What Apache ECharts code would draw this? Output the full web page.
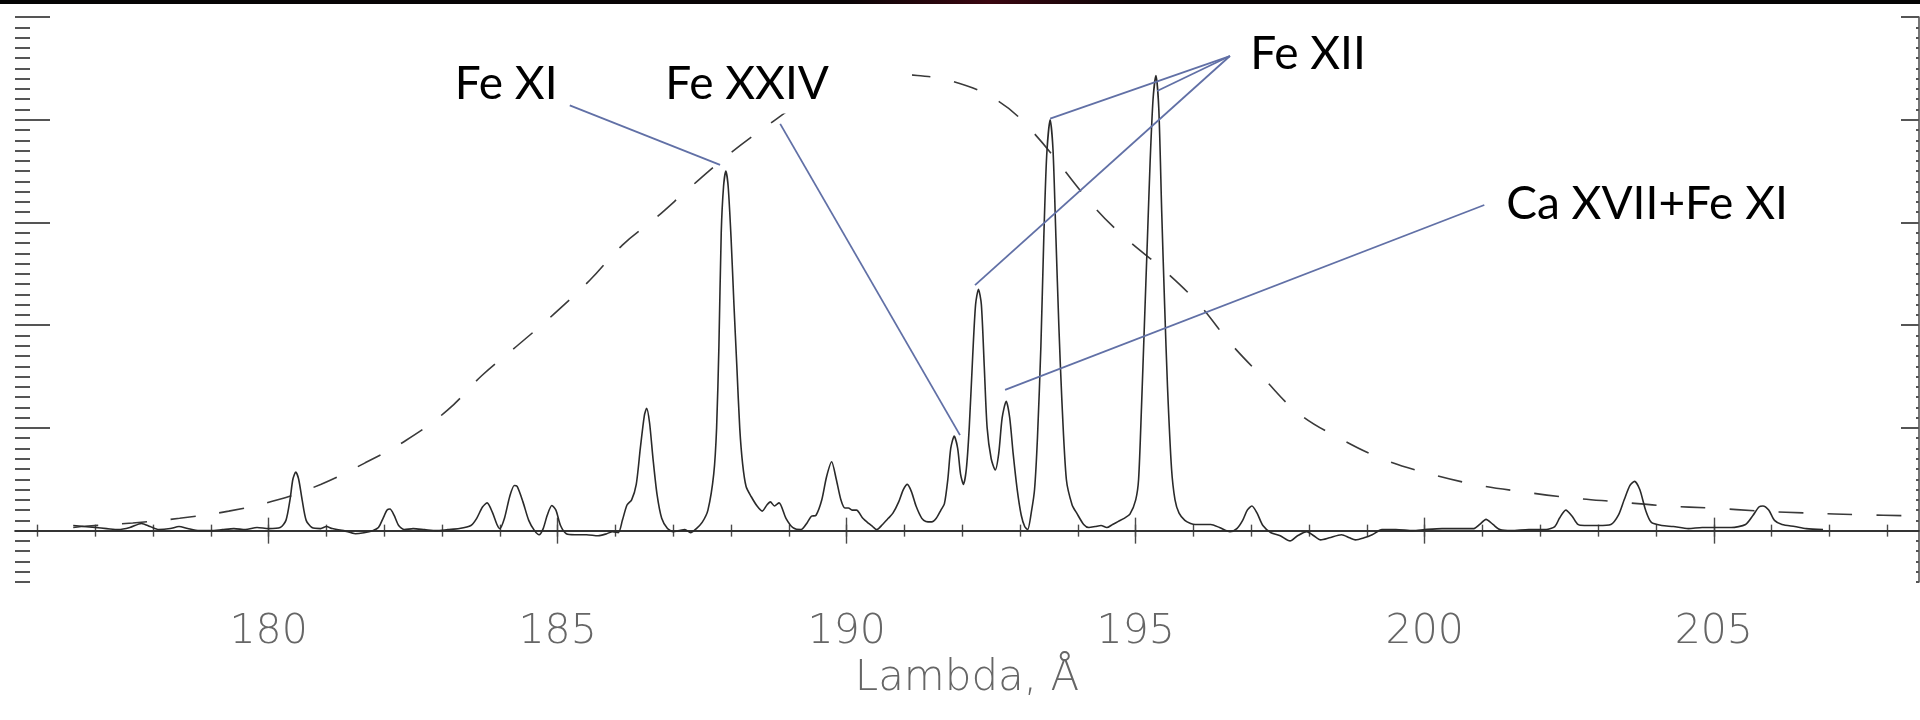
<!DOCTYPE html>
<html>
<head>
<meta charset="utf-8">
<title>EUV spectrum</title>
<script src="https://cdn.jsdelivr.net/npm/echarts@6/dist/echarts.min.js"></script>
<style>
  html, body { margin: 0; padding: 0; background: #fff; }
  #chart { width: 1920px; height: 720px; }
</style>
</head>
<body>
<div id="chart"></div>
<script>
// Wavelength range of the plot window (Å) and intensity range
const lambdaRange = [175.613, 208.55];
const intensityRange = [-0.5, 5];

// Labelled wavelengths along the bottom axis
const lambdaLabels = [180, 185, 190, 195, 200, 205];

// Observed spectrum: [wavelength Å, intensity]
const spectrum = [
  [176.62, 0.05], [176.8, 0.04], [177.0, 0.03], [177.2, 0.02], [177.4, 0.01], [177.6, 0.03],
  [177.8, 0.07], [177.95, 0.04], [178.1, 0.01], [178.3, 0.02], [178.45, 0.04], [178.6, 0.02],
  [178.8, 0.0], [179.0, 0.0], [179.2, 0.01], [179.4, 0.02], [179.6, 0.01], [179.8, 0.03],
  [180.0, 0.02], [180.2, 0.03],
  [180.3, 0.1], [180.37, 0.3], [180.42, 0.5], [180.47, 0.57], [180.52, 0.5], [180.58, 0.3],
  [180.65, 0.1], [180.75, 0.03], [180.9, 0.02], [181.0, 0.04], [181.1, 0.02], [181.3, 0.0],
  [181.5, -0.03], [181.65, -0.02], [181.8, 0.0], [181.9, 0.03],
  [181.98, 0.12], [182.05, 0.2], [182.1, 0.21], [182.17, 0.15], [182.25, 0.05], [182.35, 0.01],
  [182.5, 0.02], [182.7, 0.01], [182.9, 0.0], [183.1, 0.01], [183.3, 0.02], [183.5, 0.05],
  [183.6, 0.12], [183.7, 0.23], [183.78, 0.27], [183.87, 0.18], [183.95, 0.06], [184.0, 0.02],
  [184.08, 0.12], [184.17, 0.33], [184.25, 0.44], [184.3, 0.43], [184.4, 0.28], [184.5, 0.1],
  [184.6, 0.0], [184.68, -0.04], [184.75, 0.02],
  [184.82, 0.15], [184.9, 0.245], [184.97, 0.2], [185.05, 0.05], [185.15, -0.03], [185.3, -0.04],
  [185.5, -0.04], [185.7, -0.05], [185.85, -0.03], [185.95, -0.01], [186.05, -0.02],
  [186.12, 0.1], [186.2, 0.25], [186.28, 0.3], [186.36, 0.45], [186.43, 0.8], [186.5, 1.12],
  [186.54, 1.19], [186.59, 1.05], [186.65, 0.7], [186.72, 0.35], [186.8, 0.12], [186.9, 0.02],
  [187.0, -0.01], [187.1, 0.0], [187.2, 0.01], [187.3, -0.02], [187.4, 0.02], [187.5, 0.08],
  [187.6, 0.2], [187.7, 0.55], [187.75, 1.0], [187.79, 1.8], [187.83, 2.9], [187.87, 3.35],
  [187.91, 3.5], [187.95, 3.35], [188.0, 2.85], [188.05, 2.2], [188.1, 1.6], [188.15, 1.0],
  [188.2, 0.65], [188.26, 0.43], [188.35, 0.33], [188.45, 0.24], [188.54, 0.19], [188.62, 0.25],
  [188.68, 0.28], [188.75, 0.24], [188.83, 0.27], [188.95, 0.12], [189.07, 0.03], [189.21, 0.01],
  [189.32, 0.08], [189.39, 0.14], [189.47, 0.15],
  [189.57, 0.3], [189.65, 0.52], [189.74, 0.67], [189.82, 0.5], [189.9, 0.3], [189.97, 0.22],
  [190.03, 0.22], [190.1, 0.2], [190.17, 0.2], [190.28, 0.12], [190.38, 0.07], [190.45, 0.04],
  [190.52, 0.01], [190.62, 0.06], [190.72, 0.12], [190.8, 0.17], [190.9, 0.28],
  [190.98, 0.4], [191.05, 0.45], [191.12, 0.38], [191.2, 0.24], [191.3, 0.12], [191.37, 0.09],
  [191.47, 0.085], [191.55, 0.12], [191.63, 0.2], [191.69, 0.26], [191.75, 0.5],
  [191.8, 0.8], [191.86, 0.92], [191.92, 0.8], [191.97, 0.55], [192.02, 0.45], [192.07, 0.6],
  [192.12, 1.0], [192.18, 1.7], [192.23, 2.2], [192.28, 2.35], [192.33, 2.2], [192.38, 1.6],
  [192.43, 1.0], [192.5, 0.7], [192.57, 0.59], [192.63, 0.75],
  [192.69, 1.1], [192.76, 1.26], [192.82, 1.1], [192.88, 0.75], [192.95, 0.4], [193.02, 0.15],
  [193.08, 0.04], [193.13, 0.01], [193.2, 0.2],
  [193.25, 0.4], [193.3, 0.9], [193.36, 1.8], [193.41, 2.85], [193.46, 3.65], [193.52, 4.0],
  [193.57, 3.7], [193.62, 2.85], [193.67, 2.0], [193.72, 1.3], [193.8, 0.5], [193.9, 0.25],
  [193.98, 0.17], [194.1, 0.06], [194.19, 0.03], [194.3, 0.04], [194.4, 0.05], [194.5, 0.03],
  [194.6, 0.06], [194.7, 0.09], [194.8, 0.12], [194.9, 0.16], [195.0, 0.3],
  [195.05, 0.5], [195.1, 1.2], [195.15, 2.0], [195.2, 2.8], [195.25, 3.6], [195.3, 4.2],
  [195.35, 4.43], [195.4, 4.1], [195.45, 3.1], [195.5, 2.2], [195.55, 1.4], [195.62, 0.6],
  [195.68, 0.3], [195.75, 0.17], [195.85, 0.1], [195.95, 0.07], [196.03, 0.06], [196.15, 0.06],
  [196.3, 0.06], [196.45, 0.03], [196.63, -0.01], [196.75, 0.02],
  [196.85, 0.1], [196.93, 0.2], [197.01, 0.24], [197.1, 0.17], [197.2, 0.05], [197.34, -0.02],
  [197.5, -0.05], [197.67, -0.1], [197.8, -0.05], [197.96, -0.01], [198.08, -0.05], [198.2, -0.09],
  [198.35, -0.07], [198.56, -0.04], [198.7, -0.07], [198.8, -0.09], [198.95, -0.07], [199.09, -0.04],
  [199.26, 0.01], [199.5, 0.01], [199.8, 0.0], [200.0, 0.01], [200.3, 0.02], [200.6, 0.02],
  [200.85, 0.02],
  [200.95, 0.06], [201.06, 0.11], [201.18, 0.06], [201.3, 0.01], [201.5, 0.0], [201.8, 0.01],
  [202.1, 0.01], [202.25, 0.04],
  [202.33, 0.12], [202.44, 0.2], [202.55, 0.14], [202.65, 0.06], [202.76, 0.05], [203.0, 0.05],
  [203.22, 0.06], [203.35, 0.15],
  [203.45, 0.3], [203.55, 0.44], [203.63, 0.48], [203.72, 0.4], [203.82, 0.2], [203.92, 0.08],
  [204.1, 0.05], [204.3, 0.04], [204.56, 0.02], [204.8, 0.03], [204.98, 0.03], [205.3, 0.03],
  [205.55, 0.06],
  [205.68, 0.15], [205.78, 0.23], [205.85, 0.24], [205.95, 0.2], [206.05, 0.1], [206.18, 0.06],
  [206.4, 0.04], [206.6, 0.02], [206.89, 0.01]
];

// Instrument response (dashed): [wavelength Å, relative response]
const response = [
  [176.62, 0.03], [176.76, 0.04], [177.65, 0.075], [178.46, 0.12], [179.31, 0.19], [180.16, 0.3],
  [180.9, 0.45], [181.67, 0.66], [182.38, 0.88], [183.09, 1.17], [183.69, 1.51], [184.28, 1.79],
  [184.92, 2.1], [185.56, 2.44], [186.12, 2.78], [186.71, 3.05], [187.29, 3.34], [187.98, 3.67],
  [188.62, 3.94], [189.3, 4.2], [190.0, 4.38], [190.6, 4.45], [191.22, 4.43], [191.79, 4.38],
  [192.57, 4.2], [193.19, 3.9], [194.25, 3.17], [194.78, 2.87], [195.54, 2.51], [196.1, 2.2],
  [196.63, 1.83], [197.2, 1.49], [197.8, 1.15], [198.49, 0.91], [199.26, 0.7], [200.04, 0.56],
  [200.86, 0.45], [201.67, 0.38], [202.53, 0.32], [203.34, 0.28], [204.18, 0.24], [204.97, 0.22],
  [205.82, 0.19], [206.67, 0.17], [207.5, 0.155], [208.36, 0.145], [208.55, 0.14]
];

// Line identifications: label text, label anchor [λ, I], and the line(s) each points to
const lineLabels = ['Fe XI', 'Fe XXIV', 'Fe XII', 'Ca XVII+Fe XI'];
const labelAnchors = [[183.22, 4.345], [186.86, 4.345], [196.98, 4.636], [201.41, 3.175]];
const leaderStarts = [[185.21, 4.14], [188.85, 3.96], [196.63, 4.62], [201.03, 3.17]];
const leaderTargets = [
  [[187.81, 3.56]],
  [[191.96, 0.93]],
  [[193.52, 4.01], [195.37, 4.28], [192.22, 2.39]],
  [[192.74, 1.37]]
];
// Opaque label boxes (data corners) that sit over the plot
const labelBoxes = [
  [[186.6, 4.87], [191.13, 4.06]],
  [[196.63, 5.12], [200.16, 4.38]]
];

// Tick positions: every 1 Å / 0.1 intensity, majors every 5 Å / 1.0
const minorLambda = [];
for (let v = 176; v <= 208; v++) minorLambda.push(v);
const minorIntensity = [];
for (let k = -5; k <= 50; k++) minorIntensity.push(+(k / 10).toFixed(1));
const majorIntensity = [0, 1, 2, 3, 4, 5];

const axisColor = '#4a4a4a';
const traceColor = '#2a2a2a';
const leaderColor = '#6170a6';

function lambdaAxis(position, tickValues, tickLen, withLine, withLabels) {
  return {
    type: 'value', position: position,
    min: lambdaRange[0], max: lambdaRange[1],
    splitLine: { show: false },
    axisLine: { show: withLine, lineStyle: { color: axisColor, width: 1.5 } },
    axisTick: { show: true, inside: true, length: tickLen, customValues: tickValues,
                lineStyle: { color: axisColor, width: 1.4 } },
    axisLabel: withLabels ? {
      show: true, customValues: lambdaLabels, margin: 30,
      color: '#666', fontSize: 41, fontFamily: 'DejaVu Sans', fontWeight: 200
    } : { show: false },
    name: withLabels ? 'Lambda, Å' : '',
    nameLocation: 'middle', nameGap: 74,
    nameTextStyle: { color: '#666', fontSize: 42, fontFamily: 'DejaVu Sans', fontWeight: 200 }
  };
}

function intensityAxis(position, tickValues, tickLen, withLine) {
  return {
    type: 'value', position: position,
    min: intensityRange[0], max: intensityRange[1],
    splitLine: { show: false },
    axisLine: { show: withLine, onZero: false, lineStyle: { color: axisColor, width: 1.5 } },
    axisTick: { show: true, inside: true, length: tickLen, customValues: tickValues,
                lineStyle: { color: '#555', width: 2 } },
    axisLabel: { show: false }
  };
}

const chart = echarts.init(document.getElementById('chart'), null, { renderer: 'canvas' });

chart.setOption({
  animation: false,
  backgroundColor: '#fff',
  grid: { left: 15, right: 1, top: 17, bottom: 138 },
  xAxis: [
    lambdaAxis('bottom', minorLambda, 6, true, true),
    lambdaAxis('bottom', lambdaLabels, 13, false, false),
    lambdaAxis('top', minorLambda, 6, true, false),
    lambdaAxis('top', lambdaLabels, 13, false, false)
  ],
  yAxis: [
    intensityAxis('left', minorIntensity, 15, false),
    intensityAxis('left', majorIntensity, 35, false),
    intensityAxis('right', minorIntensity, 3, true),
    intensityAxis('right', majorIntensity, 18, false)
  ],
  series: [
    {
      name: 'spectrum', type: 'line', xAxisIndex: 0, yAxisIndex: 0,
      data: spectrum, showSymbol: false, smooth: 0.25, z: 3,
      lineStyle: { color: traceColor, width: 1.6 },
      markLine: {
        silent: true, symbol: 'none', label: { show: false },
        lineStyle: { color: traceColor, width: 1.5, type: 'solid' },
        data: [{ yAxis: 0 }]
      }
    },
    {
      name: 'response', type: 'line', xAxisIndex: 0, yAxisIndex: 0,
      data: response, showSymbol: false, smooth: 0.4, z: 2,
      lineStyle: { color: '#3a3a3a', width: 1.6, type: [25, 24] }
    }
  ]
});

// Annotation layer: label boxes, leader lines and line identifications
const toPx = (p) => chart.convertToPixel({ xAxisIndex: 0, yAxisIndex: 0 }, p);
const elements = [];

elements.push({
  type: 'rect', z: 200, silent: true,
  shape: { x: 0, y: 0, width: 1920, height: 4 },
  style: {
    fill: new echarts.graphic.LinearGradient(0, 0, 1, 0, [
      { offset: 0, color: '#050505' },
      { offset: 0.44, color: '#0a0506' },
      { offset: 0.515, color: '#3a0610' },
      { offset: 0.59, color: '#0a0506' },
      { offset: 1, color: '#050505' }
    ])
  }
});

labelBoxes.forEach(function (box) {
  const a = toPx(box[0]), b = toPx(box[1]);
  elements.push({
    type: 'rect', z: 100, silent: true,
    shape: { x: a[0], y: a[1], width: b[0] - a[0], height: b[1] - a[1] },
    style: { fill: '#fff' }
  });
});

leaderStarts.forEach(function (start, i) {
  const s = toPx(start);
  leaderTargets[i].forEach(function (t) {
    const e = toPx(t);
    elements.push({
      type: 'line', z: 110, silent: true,
      shape: { x1: s[0], y1: s[1], x2: e[0], y2: e[1] },
      style: { stroke: leaderColor, lineWidth: 1.8 }
    });
  });
});

lineLabels.forEach(function (txt, i) {
  const p = toPx(labelAnchors[i]);
  elements.push({
    type: 'text', z: 120, silent: true,
    style: {
      x: p[0], y: p[1], text: txt,
      fontFamily: 'Lato', fontSize: 46, fill: '#000',
      align: 'left', verticalAlign: 'middle'
    }
  });
});

chart.setOption({ graphic: { elements: elements } });
</script>
</body>
</html>
